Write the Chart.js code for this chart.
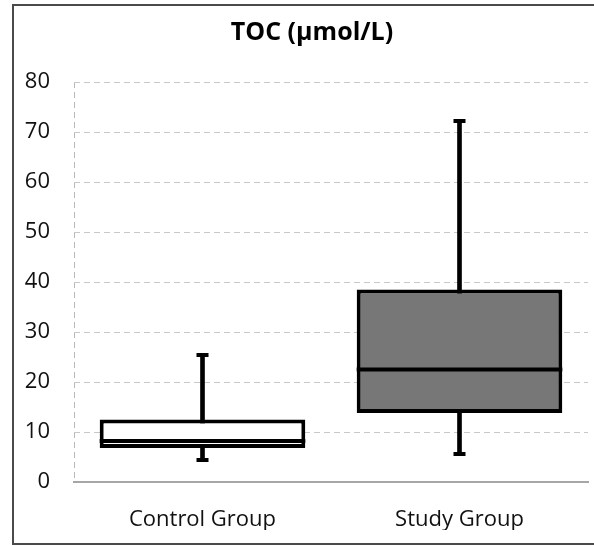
<!DOCTYPE html>
<html>
<head>
<meta charset="utf-8">
<title>TOC box plot</title>
<script src="https://cdn.jsdelivr.net/npm/chart.js@4.4.0/dist/chart.umd.min.js"></script>
<style>
  html, body { margin: 0; padding: 0; background: #fff; overflow: hidden; }
  #frame {
    position: absolute; left: 12px; top: 4px; width: 640px; height: 541px;
    border: 2px solid #4a4a4a; box-sizing: border-box;
  }
  #wrap { position: absolute; left: 0; top: 0; width: 594px; height: 546px; }
</style>
</head>
<body>
<div id="frame"></div>
<div id="wrap"><canvas id="chart"></canvas></div>
<script>
// values
const groups = ['Control Group', 'Study Group'];
const whiskerLow = [4.4, 5.6];
const q1 = [6.8, 13.8];
const median = [8.2, 22.5];
const q3 = [12.5, 38.5];
const whiskerHigh = [25.4, 72.2];
const boxColors = ['#ffffff', '#777777'];

const FONT = '"Open Sans", sans-serif';

// medians and whisker caps, placed with the chart's own scale and bar elements
const boxExtras = {
  id: 'boxExtras',
  afterLayout(chart) {
    // let the y tick labels use the space left of the padded axis box
    chart.scales.y.left = 0;
  },
  afterDatasetsDraw(chart) {
    const ctx = chart.ctx;
    const y = chart.scales.y;
    const boxes = chart.getDatasetMeta(1).data;
    const whiskers = chart.getDatasetMeta(0).data;
    ctx.save();
    ctx.fillStyle = '#000';
    boxes.forEach((bar, i) => {
      const my = y.getPixelForValue(median[i]);
      ctx.fillRect(bar.x - bar.width / 2, my - 2, bar.width, 4);
    });
    whiskers.forEach((w, i) => {
      [whiskerLow[i], whiskerHigh[i]].forEach((v) => {
        const py = y.getPixelForValue(v);
        ctx.fillRect(w.x - 6, py - 2, 12, 4);
      });
    });
    ctx.restore();
  },
};

new Chart(document.getElementById('chart'), {
  type: 'bar',
  data: {
    labels: groups,
    datasets: [
      {
        label: 'whisker',
        data: groups.map((g, i) => [whiskerLow[i], whiskerHigh[i]]),
        backgroundColor: '#000',
        barThickness: 4,
        grouped: false,
        order: 2,
      },
      {
        label: 'box',
        data: groups.map((g, i) => [q1[i], q3[i]]),
        backgroundColor: boxColors,
        borderColor: '#000',
        borderWidth: 4,
        borderSkipped: false,
        barPercentage: 0.8,
        categoryPercentage: 1,
        grouped: false,
        order: 1,
      },
    ],
  },
  options: {
    responsive: true,
    maintainAspectRatio: false,
    animation: false,
    layout: {padding: {left: 36, right: 6, top: 0, bottom: 16}},
    plugins: {
      legend: {display: false},
      tooltip: {enabled: false},
      title: {
        display: true,
        text: 'TOC (µmol/L)',
        color: '#000',
        font: {family: FONT, size: 25, weight: 'bold'},
        padding: {top: 18, bottom: 34},
      },
    },
    scales: {
      x: {
        grid: {
          display: true,
          drawTicks: false,
          color: (c) => (c.index === 0 ? '#b8b8b8' : 'rgba(0,0,0,0)'),
        },
        border: {display: true, color: '#a6a6a6', width: 2, dash: [6, 4]},
        ticks: {color: '#111', font: {family: FONT, size: 22}, padding: 25},
        afterFit(s) { s.height = 48; },
      },
      y: {
        min: 0,
        max: 80,
        ticks: {stepSize: 10, color: '#111', font: {family: FONT, size: 22}, padding: 24},
        grid: {color: '#c8c8c8', drawTicks: false},
        border: {display: false, dash: [6, 4]},
        afterFit(s) { s.width = 38; },
      },
    },
  },
  plugins: [boxExtras],
});
</script>
</body>
</html>
